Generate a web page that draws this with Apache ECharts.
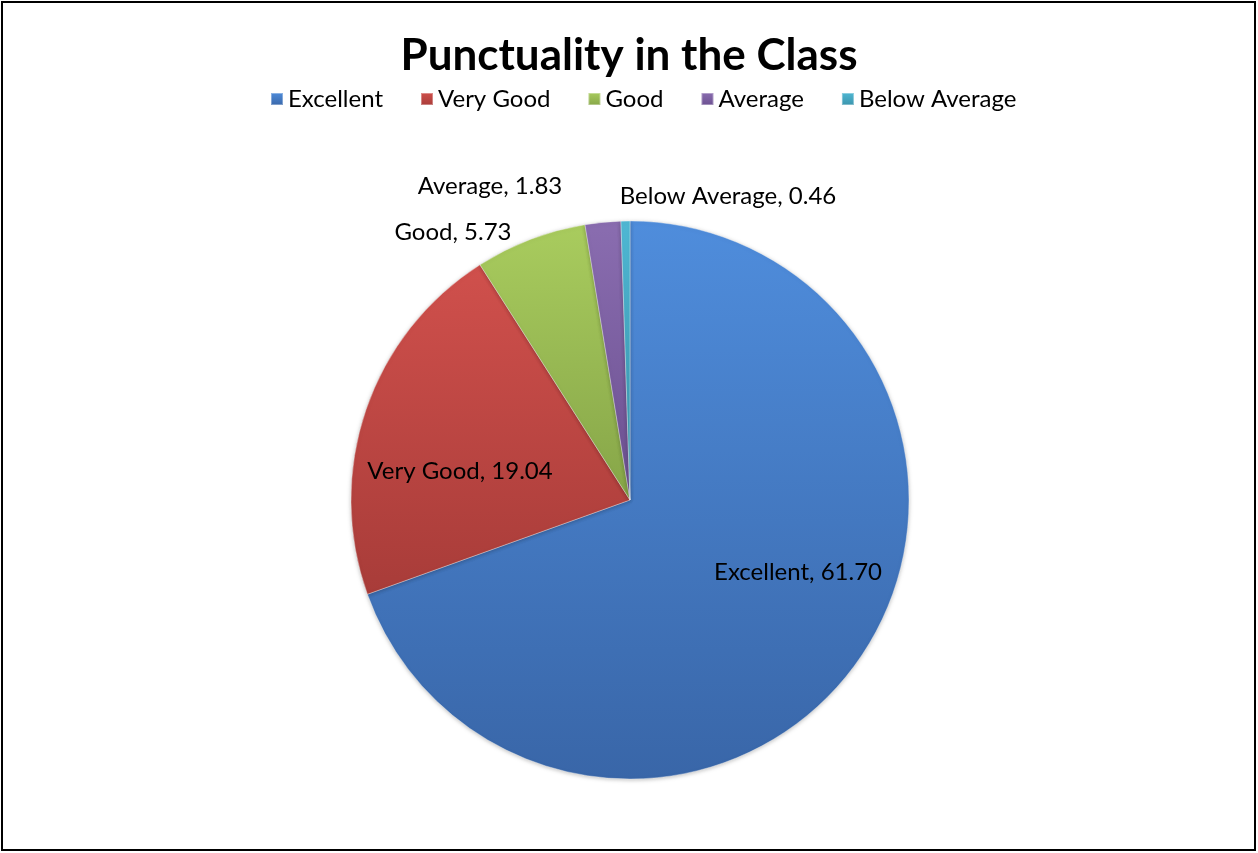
<!DOCTYPE html>
<html><head><meta charset="utf-8">
<script src="https://cdn.jsdelivr.net/npm/echarts@6/dist/echarts.min.js"></script>
<style>
html,body{margin:0;padding:0;background:#fff;}
#frame{position:absolute;left:1px;top:1px;width:1255px;height:850px;border:2px solid #000;box-sizing:border-box;}
#chart{position:absolute;left:0;top:0;width:1258px;height:853px;}
</style></head>
<body><div id="frame"></div><div id="chart"></div>
<script>
const categories = ['Excellent','Very Good','Good','Average','Below Average'];
const values = [61.70, 19.04, 5.73, 1.83, 0.46];
const colorsTop = ['#4f8ddc','#d0504c','#a9cc5e','#8a6db0','#4fb8d4'];
const colorsBot = ['#3966a8','#a83c39','#86a548','#6b5090','#3a93ab'];
// label centres (layout only)
const labelPos = [[798,572],[460,471],[453,232],[490,186],[728,196]];

const chart = echarts.init(document.getElementById('chart'));
chart.setOption({
  animation:false,
  title:{text:'Punctuality in the Class',left:'center',top:29,
    textStyle:{fontFamily:'Lato',fontWeight:'bold',fontSize:44,color:'#000'}},
  legend:{top:82,left:265,itemWidth:12,itemHeight:12,itemGap:37,icon:'rect',
    textStyle:{fontFamily:'Lato',fontSize:24,color:'#000'},
    data:categories},
  series:[{
    type:'pie',center:[630,500],radius:279,startAngle:90,clockwise:true,
    label:{show:true,position:'inside',fontFamily:'Lato',fontSize:24,color:'#000',
      formatter:p=>p.name+', '+p.value.toFixed(2)},
    labelLine:{show:false},
    labelLayout:function(p){const q=labelPos[p.dataIndex];return {x:q[0],y:q[1],align:'center',verticalAlign:'middle'};},
    itemStyle:{borderColor:'rgba(255,255,255,0.35)',borderWidth:1,shadowBlur:4,shadowColor:'rgba(0,0,0,0.25)',shadowOffsetY:1},
    emphasis:{disabled:true},
    data:categories.map((c,i)=>({name:c,value:values[i],itemStyle:{color:new echarts.graphic.LinearGradient(0,0,0,1,[{offset:0,color:colorsTop[i]},{offset:1,color:colorsBot[i]}])}}))
  }]
});
</script></body></html>
